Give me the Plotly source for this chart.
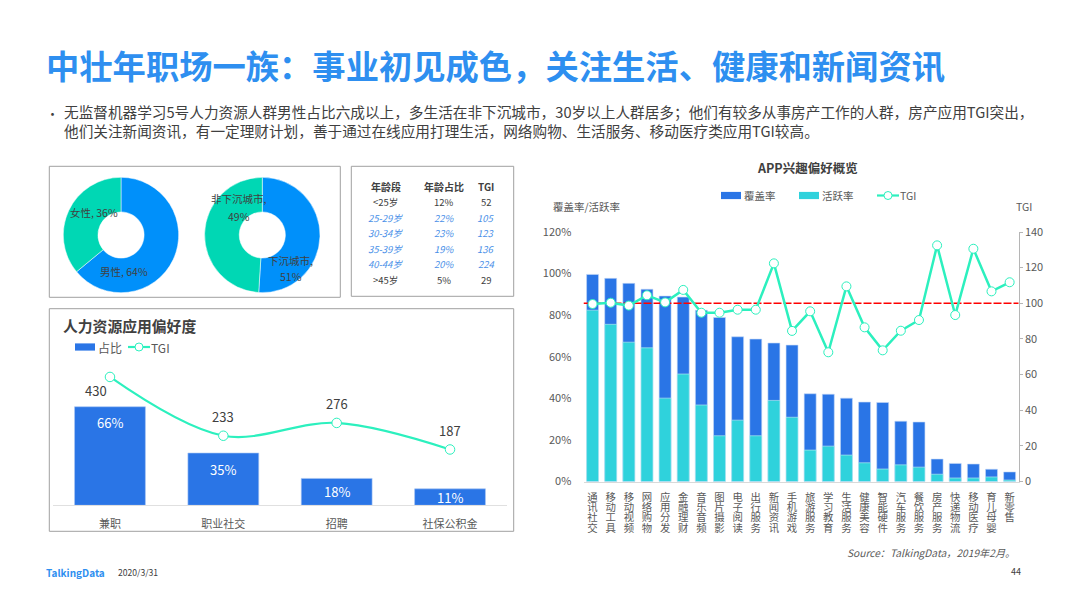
import plotly.graph_objects as go

W, H = 1066, 599
FONT = "Noto Sans CJK SC"
GRID_TEXT = "#595959"
DARK = "#404040"
BLUE = "#2A75E6"
CYAN = "#2FD2DC"
MINT = "#2CF0BE"

# ---- data ----
app_categories = ["通讯社交","移动工具","移动视频","网络购物","应用分发","金融理财","音乐音频","图片摄影",
                  "电子阅读","出行服务","新闻资讯","手机游戏","旅游服务","学习教育","生活服务","健康美容",
                  "智能硬件","汽车服务","餐饮服务","房产服务","快递物流","移动医疗","育儿母婴","新零售"]
coverage = [99.6,97.7,95.3,92.5,89.2,88.7,82.4,78.9,69.6,68.5,66.6,65.6,
            42.2,42.0,40.1,38.2,38.0,29.0,28.6,10.8,8.7,8.4,5.9,4.6]
active = [82.4,75.6,67.0,64.3,40.1,51.7,36.8,22.0,29.5,22.0,39.0,30.9,
          15.1,17.0,12.7,9.0,6.0,8.0,6.9,3.5,1.7,1.7,2.2,0.7]
app_tgi = [99.6,100.3,98.7,104.5,100.5,107.5,94.7,94.7,96.4,96.4,122.4,84.5,
           95.5,72.5,109.5,86.5,73.6,84.6,90.6,132.5,93.4,130.6,106.7,111.8]
tgi_baseline = 100

hr_categories = ["兼职","职业社交","招聘","社保公积金"]
hr_share = [66,35,18,11]
hr_tgi = [430,233,276,187]

gender_labels = ["男性","女性"]
gender_values = [64,36]
city_labels = ["下沉城市","非下沉城市"]
city_values = [51,49]

age_header = ["年龄段","年龄占比","TGI"]
age_groups = ["<25岁","25-29岁","30-34岁","35-39岁","40-44岁",">45岁"]
age_share = ["12%","22%","23%","19%","20%","5%"]
age_tgi = ["52","105","123","136","224","29"]
age_highlight = [False,True,True,True,True,False]

TITLE = "中壮年职场一族：事业初见成色，关注生活、健康和新闻资讯"
BODY1 = "无监督机器学习5号人力资源人群男性占比六成以上，多生活在非下沉城市，30岁以上人群居多；他们有较多从事房产工作的人群，房产应用TGI突出，"
BODY2 = "他们关注新闻资讯，有一定理财计划，善于通过在线应用打理生活，网络购物、生活服务、移动医疗类应用TGI较高。"

def px(x): return x / W
def py(y): return 1 - y / H

fig = go.Figure()

# ---- pies ----
for cx, labels, values, name in [(121, gender_labels, gender_values, "性别"),
                                 (262.3, city_labels, city_values, "城市")]:
    r = 57.7
    fig.add_trace(go.Pie(labels=labels, values=values, hole=0.4, sort=False, direction="clockwise",
                         rotation=0, name=name, textinfo="none", showlegend=False,
                         marker=dict(colors=["#0090FA", "#00D7B4"], line=dict(color="white", width=0.5)),
                         domain=dict(x=[px(cx-r), px(cx+r)], y=[py(235+r), py(235-r)])))

# ---- main chart ----
xs = list(range(len(app_categories)))
fig.add_trace(go.Bar(x=xs, y=coverage, name="覆盖率", marker=dict(color=BLUE, line=dict(color="#C5D8F6", width=0.6)),
                     width=0.66, xaxis="x", yaxis="y", showlegend=False))
fig.add_trace(go.Bar(x=xs, y=active, name="活跃率", marker=dict(color=CYAN, line=dict(color="#C5F0F3", width=0.6)),
                     width=0.66, xaxis="x", yaxis="y", showlegend=False))
fig.add_trace(go.Scatter(x=[-0.5, len(xs)-0.5], y=[tgi_baseline]*2, mode="lines", showlegend=False, name="基准线",
                         line=dict(color="#FF0000", width=1.5, dash="8px,2px"), xaxis="x", yaxis="y2"))
fig.add_trace(go.Scatter(x=xs, y=app_tgi, name="TGI", mode="lines+markers", xaxis="x", yaxis="y2", showlegend=False,
                         line=dict(color=MINT, width=2.5),
                         marker=dict(size=9, color="white", line=dict(color=MINT, width=1))))

# ---- HR chart ----
fig.add_trace(go.Bar(x=hr_categories, y=hr_share, name="占比", width=0.625,
                     marker=dict(color=BLUE, line=dict(color="#A9C6F4", width=0.6)),
                     xaxis="x2", yaxis="y3", showlegend=False))
fig.add_trace(go.Scatter(x=hr_categories, y=hr_tgi, name="TGI", mode="lines+markers", xaxis="x2", yaxis="y4",
                         showlegend=False, line=dict(color=MINT, width=2.2, shape="spline", smoothing=1.0),
                         marker=dict(size=9.5, color="white", line=dict(color=MINT, width=1))))

ann = []
def text(x, y, s, size=11, color=DARK, anchor="center", **kw):
    ann.append(dict(x=px(x), y=py(y), xref="paper", yref="paper", text=s, showarrow=False, xanchor=anchor,
                    yanchor="middle", font=dict(family=FONT, size=size, color=color), **kw))

text(44, 64, f"<b>{TITLE}</b>", 33.3, "#2E8FF0", "left")
text(52, 113, "•", 13, DARK)
text(62, 121.5, f"{BODY1}<br>{BODY2}", 14.65, DARK, "left", align="left")

text(94, 212.7, f"{gender_labels[1]}, {gender_values[1]}%", 10.5)
text(123.7, 271, f"{gender_labels[0]}, {gender_values[0]}%", 10.5)
text(239, 198, f"{city_labels[1]},", 10.5)
text(239, 216, f"{city_values[1]}%", 10.5)
text(290.7, 260, f"{city_labels[0]},", 10.5)
text(290.7, 277, f"{city_values[0]}%", 10.5)

# age table
col_x = [385.7, 444, 486]
for cx, h in zip(col_x, age_header):
    text(cx, 186, f"<b>{h}</b>", 10, DARK)
for j, col in enumerate([age_groups, age_share, age_tgi]):
    for i, v in enumerate(col):
        hi = age_highlight[i]
        text(col_x[j], 202 + 15.5 * i, f"<i>{v}</i>" if hi else v.replace("<", "&lt;").replace(">", "&gt;"),
             9.5, "#4A90E8" if hi else DARK)

text(61, 325, "<b>人力资源应用偏好度</b>", 14.8, DARK, "left")
text(807, 167, "<b>APP兴趣偏好概览</b>", 12.5, DARK)
text(586, 207, "覆盖率/活跃率", 10.5, GRID_TEXT)
text(1024, 207, "TGI", 10.5, GRID_TEXT)
text(931, 552, "<i>Source：TalkingData，2019年2月。</i>", 10.2, GRID_TEXT)
text(44, 572, "<b>TalkingData</b>", 10, "#2E8FF0", "left")
text(116, 572, "2020/3/31", 8.6, DARK, "left")
text(1016, 571, "44", 9, DARK)

# HR value labels, tied to the chart's own axes
shifts = [(-14, -14), (0, 19), (0, 19), (0, 19)]
for c, v, (dx, dy) in zip(hr_categories, hr_tgi, shifts):
    ann.append(dict(x=c, y=v, xref="x2", yref="y4", text=str(v), showarrow=False, xshift=dx, yshift=dy,
                    font=dict(family=FONT, size=13, color=DARK)))
for c, v, dy in zip(hr_categories, hr_share, [-16, -16, -12.7, -8.2]):
    ann.append(dict(x=c, y=v, xref="x2", yref="y3", text=f"{v}%", showarrow=False, yshift=dy,
                    font=dict(family=FONT, size=13, color="white")))

rects = [(49.3, 166.3, 340.3, 297.3), (351.3, 166.3, 513.7, 296.3), (49.3, 308.7, 513.7, 531.3)]
shapes = [dict(type="rect", xref="paper", yref="paper", x0=px(a), x1=px(c), y0=py(b), y1=py(d),
               line=dict(color="#A0A0A0", width=1), layer="below") for a, b, c, d in rects]

# hand-placed legends (swatches are 20x7 bars and a 22 px line with a ring)
def bar_key(x, y, color, label, size):
    shapes.append(dict(type="rect", xref="paper", yref="paper", x0=px(x), x1=px(x+20), y0=py(y+3.6), y1=py(y-3.6),
                       fillcolor=color, line_width=0))
    text(x + 20.5, y, label, size, GRID_TEXT, "left")
def line_key(x, y, label, size):
    shapes.append(dict(type="line", xref="paper", yref="paper", x0=px(x), x1=px(x+22), y0=py(y), y1=py(y),
                       line=dict(color=MINT, width=2.2)))
    shapes.append(dict(type="circle", xref="paper", yref="paper", x0=px(x+7), x1=px(x+15), y0=py(y+4), y1=py(y-4),
                       fillcolor="white", line=dict(color=MINT, width=1)))
    text(x + 21, y, label, size, GRID_TEXT, "left")

bar_key(721, 195.5, BLUE, "覆盖率", 10.5)
bar_key(799, 195.5, CYAN, "活跃率", 10.5)
line_key(877, 195.5, "TGI", 10.5)
bar_key(75, 347, BLUE, "占比", 12)
line_key(128, 347, "TGI", 12)

MAIN_TOP, MAIN_BOTTOM = 232, 481.5
HR_TOP, HR_BOTTOM = 360, 505.3
tick = dict(family=FONT, size=11, color=GRID_TEXT)

fig.update_layout(
    width=W, height=H, autosize=False, margin=dict(l=0, r=0, t=0, b=0, autoexpand=False),
    paper_bgcolor="white", plot_bgcolor="white", barmode="overlay", showlegend=False,
    font=dict(family=FONT, color=GRID_TEXT),
    annotations=ann, shapes=shapes,
    xaxis=dict(domain=[px(583.5), px(1018.7)], range=[-0.5, len(xs)-0.5], tickmode="array", tickvals=xs,
               ticktext=app_categories, tickfont=dict(family=FONT, size=10.4, color=GRID_TEXT),
               tickangle=0, showgrid=False, zeroline=False, showline=True, linecolor="#D9D9D9", linewidth=1,
               ticks="outside", ticklen=8, tickcolor="rgba(0,0,0,0)", anchor="y"),
    yaxis=dict(domain=[py(MAIN_BOTTOM), py(MAIN_TOP)], range=[0, 120], tickvals=[0,20,40,60,80,100,120],
               ticktext=["0%","20%","40%","60%","80%","100%","120%"], tickfont=tick, showgrid=False, zeroline=False,
               showline=False, ticks="outside", ticklen=9, tickcolor="rgba(0,0,0,0)", anchor="x"),
    yaxis2=dict(domain=[py(MAIN_BOTTOM), py(MAIN_TOP)], range=[0, 140], tickvals=[0,20,40,60,80,100,120,140],
                tickfont=tick, showgrid=False, zeroline=False, showline=True, linecolor="#B5B5B5", linewidth=1,
                ticks="outside", ticklen=3, tickcolor="#B5B5B5", side="right", overlaying="y", anchor="x"),
    xaxis2=dict(domain=[px(53.3), px(506.7)], tickfont=tick, showgrid=False, zeroline=False, showline=True,
                linecolor="#E0E0E0", linewidth=1, ticks="outside", ticklen=8, tickcolor="rgba(0,0,0,0)", anchor="y3"),
    yaxis3=dict(domain=[py(HR_BOTTOM), py(HR_TOP)], range=[0, 97.3], visible=False, anchor="x2"),
    yaxis4=dict(domain=[py(HR_BOTTOM), py(HR_TOP)], range=[0, 486.8], visible=False, overlaying="y3", anchor="x2"),
)

# The reference stacks the main axis labels top to bottom: set the tick text vertical.
post = """
document.body.style.margin='0';
document.querySelectorAll('.xaxislayer-above .xtick text').forEach(function(t){
  if(/%|^\\d+$/.test(t.textContent)) return;
  if(['兼职','职业社交','招聘','社保公积金'].indexOf(t.textContent)>=0) return;
  t.style.writingMode='vertical-rl';
  t.style.textAnchor='start';
  t.setAttribute('y','491.5');
});
"""
fig.write_html("out.html", post_script=post, config={"displayModeBar": False})
